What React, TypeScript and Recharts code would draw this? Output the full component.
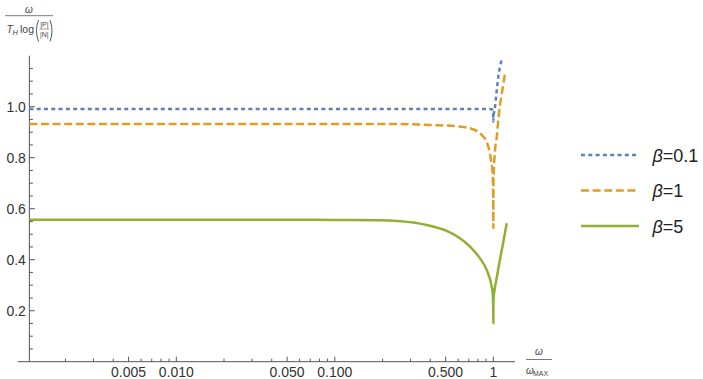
import React from "react";
import { LineChart, Line, XAxis, YAxis, ReferenceLine } from "recharts";

// ---- data ----------------------------------------------------------------
const BETA_01_X = [0.001183, 0.01, 0.1, 0.5, 0.9, 0.977, 0.99, 0.997, 1, 1.005, 1.012, 1.025, 1.051, 1.075, 1.102, 1.13];
const BETA_01_Y = [0.991, 0.991, 0.991, 0.991, 0.991, 0.99, 0.985, 0.97, 0.941, 0.965, 0.98, 1.0, 1.065, 1.118, 1.157, 1.185];

const BETA_1_X = [0.001183, 0.01, 0.1, 0.258, 0.418, 0.616, 0.731, 0.845, 0.91, 0.963, 0.991, 0.998, 1, 1.0005, 1.002, 1.01, 1.025, 1.051, 1.075, 1.102, 1.14, 1.185];
const BETA_1_Y = [0.932, 0.932, 0.932, 0.932, 0.928, 0.922, 0.913, 0.889, 0.86, 0.798, 0.732, 0.654, 0.524, 0.62, 0.7, 0.764, 0.83, 0.883, 0.948, 1.006, 1.065, 1.131];

const BETA_5_X = [0.001183, 0.01, 0.05, 0.1, 0.193, 0.313, 0.399, 0.508, 0.616, 0.713, 0.824, 0.908, 0.977, 0.99, 0.997, 0.9995, 1, 1.001, 1.004, 1.02, 1.05, 1.1, 1.156, 1.215];
const BETA_5_Y = [0.557, 0.557, 0.557, 0.556, 0.555, 0.546, 0.533, 0.513, 0.484, 0.451, 0.405, 0.36, 0.294, 0.27, 0.23, 0.19, 0.152, 0.21, 0.25, 0.285, 0.328, 0.399, 0.469, 0.543];

const SERIES_NAMES = ["0.1", "1", "5"];

// ---- axes ----------------------------------------------------------------
const X_MIN = 0.001;
const X_MAX = 1.37;
const X_ORIGIN = 0.001183; // where the vertical axis crosses
const Y_MIN = 0;
const Y_MAX = 1.2;

const X_MAJOR = [0.005, 0.01, 0.05, 0.1, 0.5, 1];
const X_TICK_LABELS = ["0.005", "0.010", "0.050", "0.100", "0.500", "1"];
const X_TICKS = [
  0.002, 0.003, 0.004, 0.005, 0.006, 0.007, 0.008, 0.009, 0.01,
  0.02, 0.03, 0.04, 0.05, 0.06, 0.07, 0.08, 0.09, 0.1,
  0.2, 0.3, 0.4, 0.5, 0.6, 0.7, 0.8, 0.9, 1,
];

const Y_MAJOR = [0.2, 0.4, 0.6, 0.8, 1.0];
const Y_TICK_LABELS = ["0.2", "0.4", "0.6", "0.8", "1.0"];
const Y_TICKS = [
  0.05, 0.1, 0.15, 0.2, 0.25, 0.3, 0.35, 0.4, 0.45, 0.5, 0.55, 0.6,
  0.65, 0.7, 0.75, 0.8, 0.85, 0.9, 0.95, 1.0, 1.05, 1.1, 1.15,
];

// ---- layout / style ------------------------------------------------------
const W = 703;
const H = 379;
const MARGIN = { top: 55.7, right: 188, bottom: 0, left: 0 };
const Y_AXIS_W = 17.8;
const X_AXIS_H = 17.3;
const PLOT_W = W - MARGIN.left - MARGIN.right - Y_AXIS_W;
const ORIGIN_OFFSET =
  (PLOT_W * (Math.log10(X_ORIGIN) - Math.log10(X_MIN))) /
  (Math.log10(X_MAX) - Math.log10(X_MIN));

const FONT = "'Liberation Sans', Arial, Helvetica, sans-serif";
const AXIS_COLOR = "#555";
const LABEL_COLOR = "#333";

const STYLES = [
  { color: "#5E81B5", dash: "4 3.3" },
  { color: "#E19C24", dash: "8 3.6" },
  { color: "#8FB032", dash: undefined as string | undefined },
];

const toPoints = (xs: number[], ys: number[]) => xs.map((x, i) => ({ x, y: ys[i] }));
const SERIES = [
  toPoints(BETA_01_X, BETA_01_Y),
  toPoints(BETA_1_X, BETA_1_Y),
  toPoints(BETA_5_X, BETA_5_Y),
];

const XTick = (props: any) => {
  const { x, y, payload } = props;
  const idx = X_MAJOR.findIndex((v) => Math.abs(v - payload.value) < 1e-12);
  const major = idx >= 0;
  return (
    <g>
      <line x1={x} x2={x} y1={y} y2={y - (major ? 5 : 3)} stroke={AXIS_COLOR} strokeWidth={1} />
      {major && (
        <text x={x} y={y + 14.8} textAnchor="middle" fontSize={14} fontFamily={FONT} fill={LABEL_COLOR}>
          {X_TICK_LABELS[idx]}
        </text>
      )}
    </g>
  );
};

const YTick = (props: any) => {
  const { x, y, payload } = props;
  const ax = x + ORIGIN_OFFSET;
  const idx = Y_MAJOR.findIndex((v) => Math.abs(v - payload.value) < 1e-9);
  const major = idx >= 0;
  return (
    <g>
      <line x1={ax} x2={ax + (major ? 5.5 : 3.5)} y1={y} y2={y} stroke={AXIS_COLOR} strokeWidth={1} />
      {major && (
        <text x={ax - 3.5} y={y + 5} textAnchor="end" fontSize={14} fontFamily={FONT} fill={LABEL_COLOR}>
          {Y_TICK_LABELS[idx]}
        </text>
      )}
    </g>
  );
};

const Labels = () => (
  <svg width={W} height={H} style={{ position: "absolute", left: 0, top: 0, pointerEvents: "none" }}>
    {/* vertical axis label: ω / (T_H log(|P|/|N|)) */}
    <g fontFamily={FONT} fill="#444">
      <text x={29} y={13} textAnchor="middle" fontSize={10} fontStyle="italic">ω</text>
      <line x1={5} x2={53} y1={15.7} y2={15.7} stroke="#555" strokeWidth={0.8} />
      <text x={6.5} y={33} fontSize={10.5} fontStyle="italic">T</text>
      <text x={12.5} y={35} fontSize={7.5} fontStyle="italic">H</text>
      <text x={20} y={33} fontSize={10.5}>log</text>
      <path d="M38.5,20 Q34.5,30.5 38.5,41.5" stroke="#444" strokeWidth={0.9} fill="none" />
      <path d="M50,20 Q54,30.5 50,41.5" stroke="#444" strokeWidth={0.9} fill="none" />
      <text x={44.3} y={26.5} textAnchor="middle" fontSize={7}>|P|</text>
      <line x1={39.5} x2={49} y1={29} y2={29} stroke="#555" strokeWidth={0.6} />
      <text x={44.3} y={36.5} textAnchor="middle" fontSize={7}>|N|</text>
    </g>
    {/* horizontal axis label: ω / ω_MAX */}
    <g fontFamily={FONT} fill="#444">
      <text x={539} y={355} textAnchor="middle" fontSize={10} fontStyle="italic">ω</text>
      <line x1={526} x2={552} y1={359.5} y2={359.5} stroke="#555" strokeWidth={0.8} />
      <text x={526} y={373.5} fontSize={10} fontStyle="italic">ω</text>
      <text x={533} y={375.5} fontSize={7}>MAX</text>
    </g>
    {/* legend */}
    {SERIES_NAMES.map((name, i) => {
      const cy = 155 + i * 35.5;
      return (
        <g key={name}>
          <line x1={581} x2={639} y1={cy} y2={cy} stroke={STYLES[i].color} strokeWidth={2.5} strokeDasharray={STYLES[i].dash} />
          <text x={652.5} y={cy + 6.5} fontSize={18} fontFamily={FONT} fill="#222">
            <tspan fontStyle="italic">β</tspan>
            <tspan>={name}</tspan>
          </text>
        </g>
      );
    })}
  </svg>
);

export default function App() {
  return (
    <div style={{ position: "absolute", left: 0, top: 0, width: W, height: H, background: "#fff" }}>
      <LineChart width={W} height={H} margin={MARGIN}>
        <XAxis
          dataKey="x"
          type="number"
          scale="log"
          domain={[X_MIN, X_MAX]}
          allowDataOverflow
          ticks={X_TICKS}
          interval={0}
          tick={<XTick />}
          tickLine={false}
          tickSize={0}
          tickMargin={0}
          height={X_AXIS_H}
          axisLine={{ stroke: AXIS_COLOR, strokeWidth: 1 }}
        />
        <YAxis
          type="number"
          domain={[Y_MIN, Y_MAX]}
          allowDataOverflow
          ticks={Y_TICKS}
          interval={0}
          tick={<YTick />}
          tickLine={false}
          tickSize={0}
          tickMargin={0}
          width={Y_AXIS_W}
          axisLine={false}
        />
        <ReferenceLine x={X_ORIGIN} stroke={AXIS_COLOR} strokeWidth={1} />
        {SERIES.map((pts, i) => (
          <Line
            key={SERIES_NAMES[i]}
            data={pts}
            dataKey="y"
            type="monotone"
            stroke={STYLES[i].color}
            strokeWidth={2.5}
            strokeDasharray={STYLES[i].dash}
            dot={false}
            activeDot={false}
            isAnimationActive={false}
          />
        ))}
      </LineChart>
      <Labels />
    </div>
  );
}
